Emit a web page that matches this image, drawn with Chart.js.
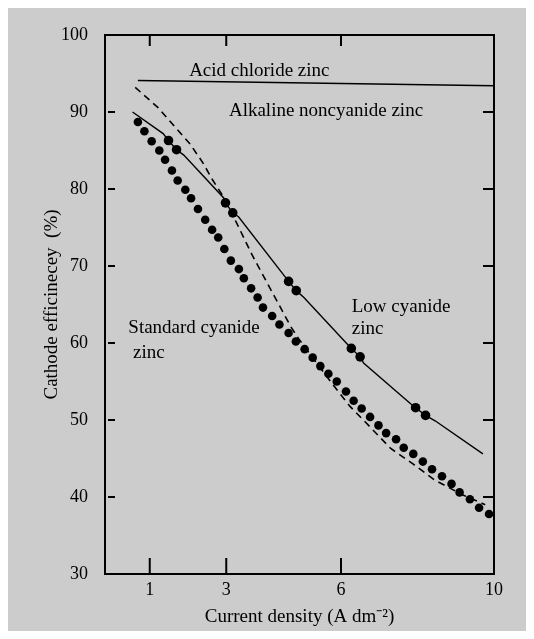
<!DOCTYPE html>
<html>
<head>
<meta charset="utf-8">
<script src="https://cdn.jsdelivr.net/npm/chart.js@4/dist/chart.umd.min.js"></script>
<style>
html,body{margin:0;padding:0;background:#fff;}
#wrap{width:534px;height:639px;position:relative;}
canvas{display:block;}
</style>
</head>
<body>
<div id="wrap"><canvas id="c" width="534" height="639"></canvas></div>
<script>
// ---- data ----
const xTickValues = [1, 3, 6, 10];
const yTickValues = [30, 40, 50, 60, 70, 80, 90, 100];
const innerYTicks = [40, 50, 60, 70, 80, 90];
const innerXTicks = [1, 3, 6];

const xTitle = 'Current density (A dm\u207B\u00B2)';
const yTitle = 'Cathode efficinecey  (%)';

// Acid chloride zinc (solid flat line)
const acidX = [0.69, 10.0];
const acidY = [94.1, 93.4];

// Alkaline noncyanide zinc (dashed)
const alkalineX = [0.62, 1.21, 1.67, 2.06, 2.39, 2.64, 2.90, 3.27, 3.69, 4.19, 4.69, 4.90, 5.77, 6.23, 6.74, 7.30, 7.88, 8.45, 9.17, 9.77];
const alkalineY = [93.2, 90.6, 88.0, 85.8, 83.4, 81.2, 79.2, 75.6, 71.3, 66.7, 62.1, 60.5, 54.7, 51.8, 49.2, 46.3, 44.3, 42.2, 40.3, 39.0];

// Low cyanide zinc (solid line with pairs of dots)
const lowX = [0.55, 1.35, 1.49, 1.70, 1.89, 2.94, 2.98, 3.17, 3.32, 4.57, 4.63, 4.83, 5.03, 6.21, 6.27, 6.50, 6.59, 7.82, 7.95, 8.21, 8.46, 9.71];
const lowY = [90.0, 87.2, 86.3, 85.1, 84.4, 78.8, 78.2, 76.9, 76.4, 68.4, 68.0, 66.8, 65.9, 59.6, 59.3, 58.2, 57.4, 52.1, 51.6, 50.6, 49.9, 45.6];
const lowDotX = [1.49, 1.70, 2.98, 3.17, 4.63, 4.83, 6.27, 6.50, 7.95, 8.21];
const lowDotY = [86.3, 85.1, 78.2, 76.9, 68.0, 66.8, 59.3, 58.2, 51.6, 50.6];

// Standard cyanide zinc (dotted)
const standardX = [0.69, 0.86, 1.05, 1.25, 1.40, 1.58, 1.73, 1.93, 2.08, 2.26, 2.45, 2.63, 2.79, 2.95, 3.12, 3.33, 3.46, 3.65, 3.82, 3.96, 4.20, 4.39, 4.63, 4.82, 5.05, 5.26, 5.46, 5.67, 5.89, 6.13, 6.33, 6.54, 6.76, 6.98, 7.18, 7.44, 7.64, 7.89, 8.14, 8.38, 8.64, 8.89, 9.10, 9.37, 9.61, 9.87];
const standardY = [88.7, 87.5, 86.2, 85.0, 83.8, 82.4, 81.1, 79.9, 78.8, 77.4, 76.0, 74.7, 73.7, 72.2, 70.7, 69.6, 68.4, 67.1, 65.9, 64.6, 63.5, 62.4, 61.3, 60.2, 59.2, 58.1, 57.0, 56.0, 55.0, 53.7, 52.5, 51.5, 50.4, 49.3, 48.3, 47.5, 46.4, 45.6, 44.6, 43.6, 42.7, 41.7, 40.6, 39.7, 38.6, 37.8];

// Curve labels (text, anchored at data coordinates)
const noteTexts = ['Acid chloride zinc', 'Alkaline noncyanide zinc', 'Low cyanide', 'zinc', 'Standard cyanide', ' zinc'];
const noteX = [2.03, 3.07, 6.28, 6.28, 0.44, 0.44];
const noteY = [94.7, 89.5, 64.0, 61.2, 61.3, 58.1];

// ---- helpers ----
const pts = (xs, ys) => xs.map((x, i) => ({x: x, y: ys[i]}));
const FONT = "'Liberation Serif', 'Times New Roman', serif";

const decor = {
  id: 'decor',
  beforeDraw(chart) {
    const ctx = chart.ctx;
    ctx.save();
    ctx.fillStyle = '#ffffff';
    ctx.fillRect(0, 0, chart.width, chart.height);
    ctx.fillStyle = '#cccccc';
    ctx.fillRect(8, 8, chart.width - 16, chart.height - 16);
    ctx.restore();
  },
  afterDatasetsDraw(chart) {
    const ctx = chart.ctx;
    const {left, right, top, bottom} = chart.chartArea;
    const xs = chart.scales.x, ys = chart.scales.y;
    ctx.save();
    ctx.strokeStyle = '#000';
    ctx.lineWidth = 2;
    ctx.strokeRect(left, top, right - left, bottom - top);
    ctx.beginPath();
    innerYTicks.forEach(v => {
      const py = ys.getPixelForValue(v);
      ctx.moveTo(left + 3, py); ctx.lineTo(left + 10, py);
      ctx.moveTo(right, py); ctx.lineTo(right - 11, py);
    });
    innerXTicks.forEach(v => {
      const px = xs.getPixelForValue(v);
      ctx.moveTo(px, bottom); ctx.lineTo(px, bottom - 16);
      ctx.moveTo(px, top); ctx.lineTo(px, top + 11);
    });
    ctx.stroke();
    ctx.fillStyle = '#000';
    ctx.font = '19px ' + FONT;
    ctx.textAlign = 'left';
    ctx.textBaseline = 'alphabetic';
    noteTexts.forEach((t, i) => {
      ctx.fillText(t, xs.getPixelForValue(noteX[i]), ys.getPixelForValue(noteY[i]));
    });
    ctx.restore();
  }
};

new Chart(document.getElementById('c'), {
  type: 'scatter',
  data: {
    datasets: [
      {label: 'Acid chloride zinc', data: pts(acidX, acidY), showLine: true, borderColor: '#000', borderWidth: 1.6, pointRadius: 0},
      {label: 'Alkaline noncyanide zinc', data: pts(alkalineX, alkalineY), showLine: true, borderColor: '#000', borderWidth: 1.6, borderDash: [7, 5], pointRadius: 0, tension: 0},
      {label: 'Low cyanide zinc', data: pts(lowX, lowY), showLine: true, borderColor: '#000', borderWidth: 1.4, pointRadius: 0, tension: 0},
      {label: 'Low cyanide zinc points', data: pts(lowDotX, lowDotY), showLine: false, pointRadius: 4.8, backgroundColor: '#000', borderWidth: 0},
      {label: 'Standard cyanide zinc', data: pts(standardX, standardY), showLine: false, pointRadius: 4.3, backgroundColor: '#000', borderWidth: 0}
    ]
  },
  options: {
    responsive: false,
    devicePixelRatio: 1,
    animation: false,
    layout: {padding: {top: 35, right: 40, left: 0, bottom: 0}},
    plugins: {legend: {display: false}, tooltip: {enabled: false}},
    scales: {
      x: {
        type: 'linear', min: -0.17, max: 10,
        afterBuildTicks: s => { s.ticks = xTickValues.map(v => ({value: v})); },
        afterFit: s => { s.height = 65; },
        grid: {display: false}, border: {display: false},
        ticks: {color: '#000', font: {family: FONT, size: 18}, padding: -3, maxRotation: 0, autoSkip: false},
        title: {display: true, text: xTitle, color: '#000', font: {family: FONT, size: 19}, padding: {top: 0, bottom: 11}}
      },
      y: {
        type: 'linear', min: 30, max: 100,
        afterBuildTicks: s => { s.ticks = yTickValues.map(v => ({value: v})); },
        afterFit: s => { s.width = 105; },
        grid: {display: false}, border: {display: false},
        ticks: {color: '#000', font: {family: FONT, size: 18}, padding: 9, autoSkip: false},
        title: {display: true, text: yTitle, color: '#000', font: {family: FONT, size: 19}, padding: {top: 41, bottom: 0}}
      }
    }
  },
  plugins: [decor]
});
</script>
</body>
</html>
